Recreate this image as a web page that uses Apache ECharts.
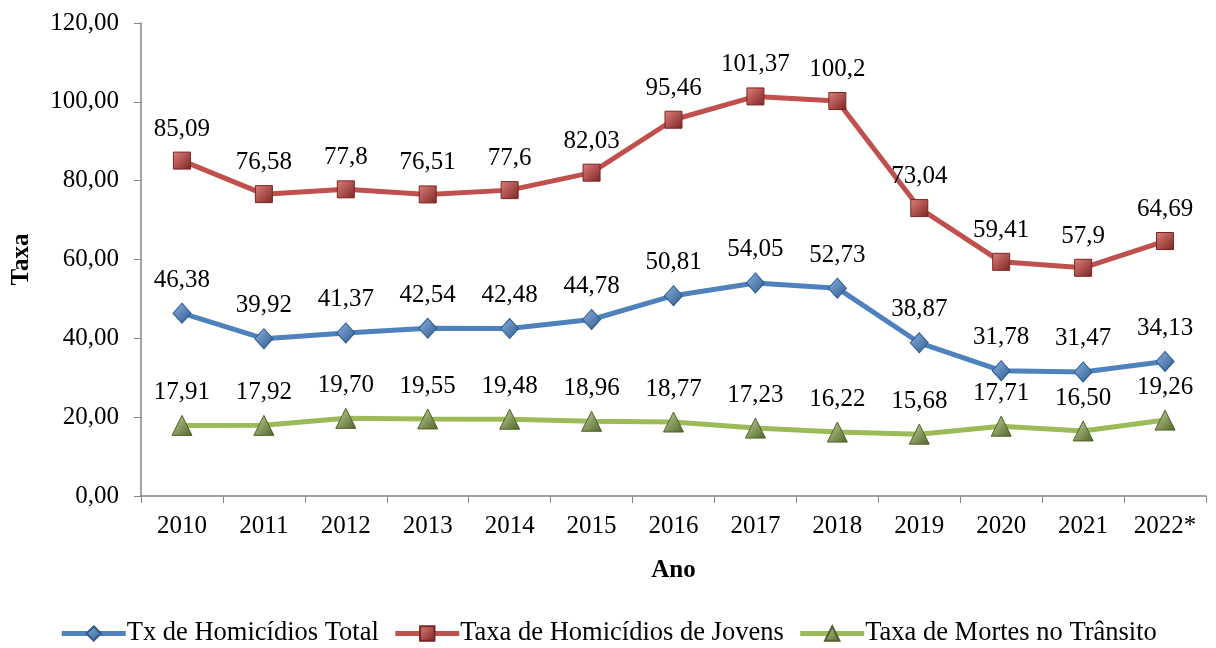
<!DOCTYPE html>
<html>
<head>
<meta charset="utf-8">
<script src="https://cdn.jsdelivr.net/npm/echarts@6/dist/echarts.min.js"></script>
<style>html,body{margin:0;padding:0;background:#fff;}#c{width:1216px;height:648px;}</style>
</head>
<body>
<div id="c"></div>
<script>
const categories = ['2010','2011','2012','2013','2014','2015','2016','2017','2018','2019','2020','2021','2022*'];
const totalValues = [46.38,39.92,41.37,42.54,42.48,44.78,50.81,54.05,52.73,38.87,31.78,31.47,34.13];
const jovensValues = [85.09,76.58,77.8,76.51,77.6,82.03,95.46,101.37,100.2,73.04,59.41,57.9,64.69];
const transitoValues = [17.91,17.92,19.70,19.55,19.48,18.96,18.77,17.23,16.22,15.68,17.71,16.50,19.26];
const yTicks = [0,20,40,60,80,100,120];

const FONT = '"Liberation Serif", "Times New Roman", serif';
const chart = echarts.init(document.getElementById('c'));

function grad(c1, c2) {
  return new echarts.graphic.LinearGradient(0,0,1,1,[{offset:0,color:c1},{offset:1,color:c2}]);
}
function mkSeries(name, data, color, light, dark, symbol, size, fmt) {
  return {
    name, type: 'line', data, symbol, symbolSize: size,
    lineStyle: {color, width: 5},
    itemStyle: {color: grad(light, dark), borderColor: dark, borderWidth: 1},
    label: {show: true, position: 'top', distance: 10, fontFamily: FONT, fontSize: 25, color: '#000',
      formatter: p => fmt(p.value)},
    z: 3
  };
}
const fmt2 = v => v.toFixed(2).replace('.', ',');
const fmtRaw = v => String(v).replace('.', ',');

chart.setOption({
  backgroundColor: '#fff',
  animation: false,
  grid: {left: 141, right: 10, top: 23, bottom: 152, containLabel: false},
  legend: {
    bottom: -4, left: 'center', itemWidth: 64, itemHeight: 18, itemGap: 14,
    lineStyle: {width: 5},
    textStyle: {fontFamily: FONT, fontSize: 26.5, color: '#000', padding: [0,0,0,-4]},
    data: ['Tx de Homicídios Total','Taxa de Homicídios de Jovens','Taxa de Mortes no Trânsito']
  },
  xAxis: {
    type: 'category', data: categories, boundaryGap: true,
    name: 'Ano', nameLocation: 'middle', nameGap: 62,
    nameTextStyle: {fontFamily: FONT, fontSize: 25, fontWeight: 'bold', color: '#000'},
    axisLine: {lineStyle: {color: '#868686', width: 1.5}},
    axisTick: {show: true, alignWithLabel: false, length: 7, lineStyle: {color: '#868686'}},
    axisLabel: {fontFamily: FONT, fontSize: 25, color: '#000', margin: 18}
  },
  yAxis: {
    type: 'value', min: 0, max: 120, interval: 20,
    name: 'Taxa', nameLocation: 'middle', nameGap: 107, nameRotate: 90,
    nameTextStyle: {fontFamily: FONT, fontSize: 25, fontWeight: 'bold', color: '#000'},
    axisLine: {show: true, lineStyle: {color: '#868686', width: 1.5}},
    axisTick: {show: true, length: 7, lineStyle: {color: '#868686'}},
    splitLine: {show: false},
    axisLabel: {fontFamily: FONT, fontSize: 25, color: '#000', margin: 22,
      formatter: v => yTicks.includes(v) ? v.toFixed(2).replace('.', ',') : ''}
  },
  series: [
    mkSeries('Tx de Homicídios Total', totalValues, '#4F81BD', '#8DB3E2', '#2C5A8C', 'diamond', [18, 20], fmt2),
    mkSeries('Taxa de Homicídios de Jovens', jovensValues, '#C0504D', '#E0807D', '#7A2522', 'rect', 17, fmtRaw),
    mkSeries('Taxa de Mortes no Trânsito', transitoValues, '#9BBB59', '#C3D69B', '#4F6228', 'triangle', 20, fmt2)
  ]
});
</script>
</body>
</html>
